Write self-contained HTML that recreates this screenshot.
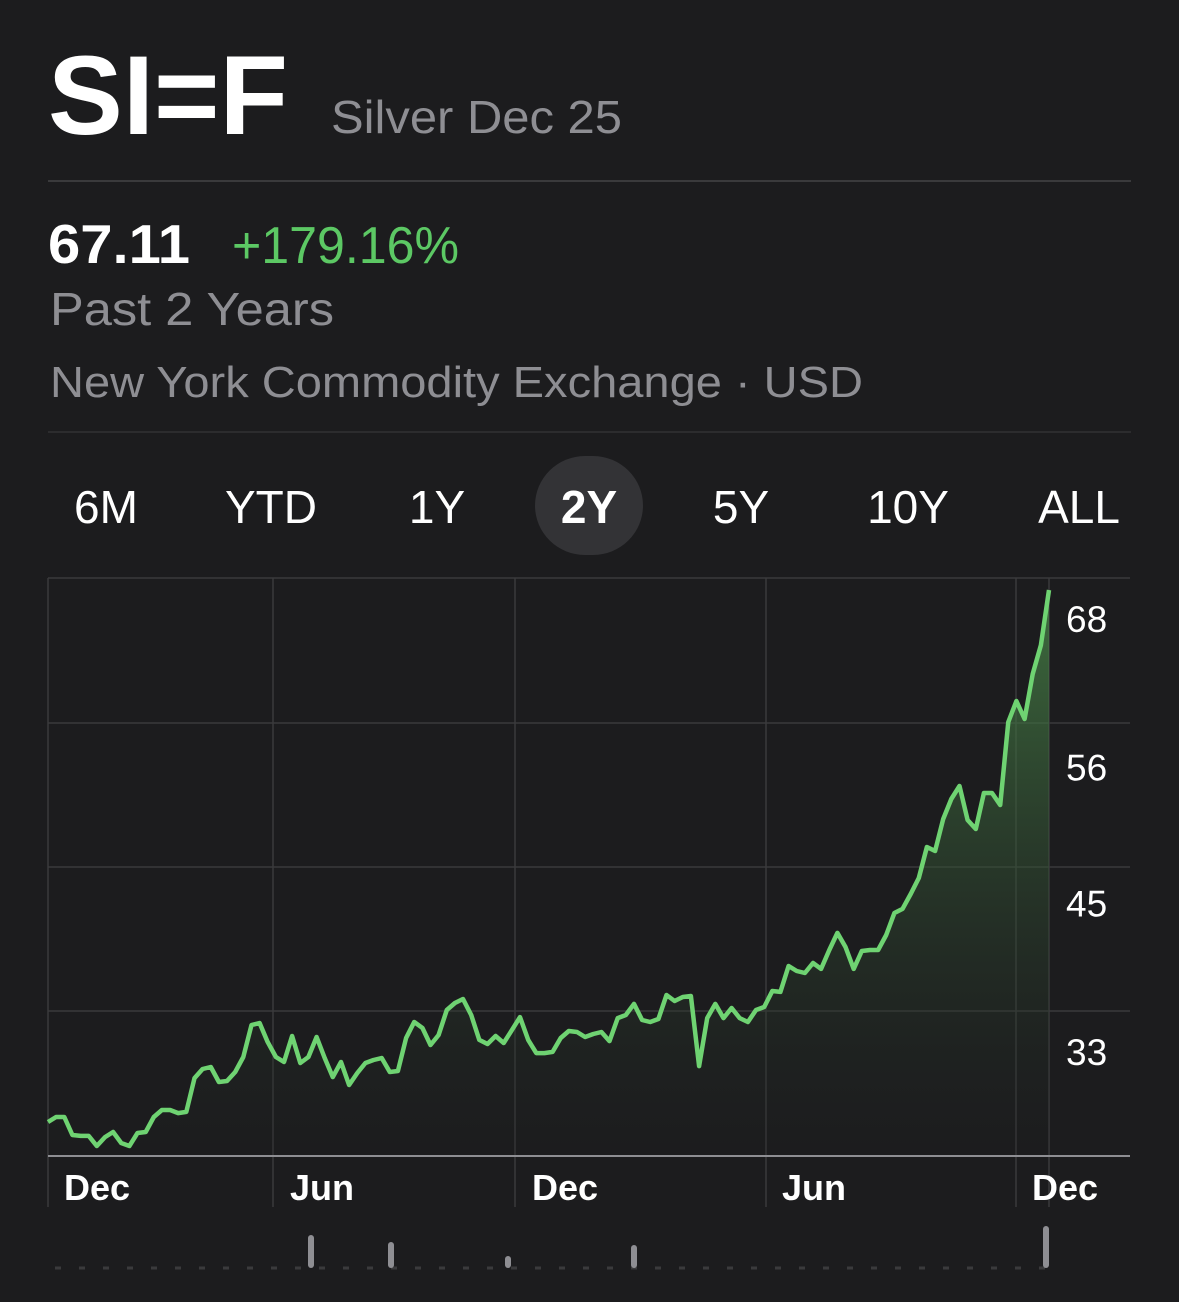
<!DOCTYPE html>
<html><head><meta charset="utf-8"><style>
html,body{margin:0;padding:0;background:#1c1c1e;}
svg{display:block;font-family:"Liberation Sans",sans-serif;}
</style></head><body>
<svg id="root" width="1179" height="1302" viewBox="0 0 1179 1302">
<rect width="1179" height="1302" fill="#1c1c1e"/>
<text x="48" y="134" font-size="112" font-weight="bold" fill="#fff" textLength="240" lengthAdjust="spacingAndGlyphs">SI=F</text>
<text x="331" y="133" font-size="46" fill="#8e8e93" textLength="291" lengthAdjust="spacingAndGlyphs">Silver Dec 25</text>
<rect x="48" y="180" width="1083" height="2" fill="#3a3a3c"/>
<text x="48" y="263" font-size="55" font-weight="bold" fill="#fff" textLength="142" lengthAdjust="spacingAndGlyphs">67.11</text>
<text x="232" y="263" font-size="52" fill="#5cc864" textLength="227" lengthAdjust="spacingAndGlyphs">+179.16%</text>
<text x="50" y="325" font-size="46" fill="#8e8e93" textLength="284" lengthAdjust="spacingAndGlyphs">Past 2 Years</text>
<text x="50" y="397" font-size="44" fill="#8e8e93" textLength="813" lengthAdjust="spacingAndGlyphs">New York Commodity Exchange · USD</text>
<rect x="48" y="431" width="1083" height="2" fill="#2c2c2e"/>
<rect x="535" y="456" width="108" height="99" rx="50" fill="#333336"/>
<g font-size="46" fill="#fff" text-anchor="middle">
<text x="106" y="523">6M</text>
<text x="271" y="523">YTD</text>
<text x="437" y="523">1Y</text>
<text x="589" y="523" font-weight="bold">2Y</text>
<text x="741" y="523">5Y</text>
<text x="908" y="523">10Y</text>
<text x="1079" y="523">ALL</text>
</g>
<defs><linearGradient id="fillg" x1="0" y1="0" x2="0" y2="1">
<stop offset="0" stop-color="#4a8a4a" stop-opacity="0.75"/>
<stop offset="1" stop-color="#1c1c1e" stop-opacity="0.2"/>
</linearGradient></defs>
<g id="chart"></g>
</svg>
<script>
const prices=[24.03,24.43,24.43,22.98,22.9,22.9,22.09,22.81,23.22,22.33,22.09,23.14,23.22,24.43,25.0,25.0,24.75,24.84,27.58,28.31,28.47,27.26,27.34,28.07,29.28,31.87,32.03,30.49,29.28,28.88,30.98,28.8,29.28,30.9,29.2,27.66,28.88,27.02,27.99,28.8,29.04,29.2,28.07,28.15,30.82,32.11,31.63,30.25,31.06,33.08,33.65,33.97,32.68,30.66,30.33,30.98,30.41,31.46,32.51,30.66,29.6,29.6,29.69,30.82,31.38,31.3,30.9,31.14,31.3,30.57,32.43,32.68,33.57,32.27,32.11,32.35,34.29,33.81,34.13,34.21,28.55,32.43,33.57,32.43,33.24,32.43,32.11,33.08,33.32,34.62,34.54,36.64,36.23,36.07,36.88,36.4,37.93,39.31,38.17,36.4,37.85,37.93,37.93,39.14,40.92,41.25,42.46,43.75,46.26,45.93,48.52,50.14,51.19,48.44,47.71,50.62,50.62,49.65,56.36,58.06,56.6,60.24,62.58,67.03];
const yTicks=[68,56,45,33];
const xLabels=["Dec","Jun","Dec","Jun","Dec"];
const xLabelIdx=[0,28,58,90,123];
const volIdx=[33,43,57,72,122];
const volValues=[33,26,12,23,42];
const NS="http://www.w3.org/2000/svg";
const g=document.getElementById('chart');
const X0=48,X1=1049,YB=1156;
const x=i=>X0+(X1-X0)*i/(prices.length-1);
const y=v=>1011-(v-33)*12.371;
function mk(t,a){const e=document.createElementNS(NS,t);for(const k in a)e.setAttribute(k,a[k]);g.appendChild(e);return e;}
const hg=[578,723,867,1011];
hg.forEach((yy,i)=>{const l=mk('line',{x1:48,x2:1130,y1:yy,y2:yy,stroke:'#3a3a3c','stroke-width':1.5});

});
[48,273,515,766,1016,1049].forEach(xx=>{const l=mk('line',{x1:xx,x2:xx,y1:578,y2:1207,stroke:'#3a3a3c','stroke-width':1.5});

});
let d='';prices.forEach((v,i)=>{d+=(i?'L':'M')+x(i).toFixed(1)+','+y(v).toFixed(1);});
const area=mk('path',{d:d+'L'+x(prices.length-1)+','+YB+'L'+X0+','+YB+'Z',fill:'url(#fillg)'});


const line=mk('path',{d:d,fill:'none',stroke:'#6fd372','stroke-width':4.5,'stroke-linejoin':'round'});


const ax=mk('line',{x1:48,x2:1130,y1:YB,y2:YB,stroke:'#8e8e93','stroke-width':2});


yTicks.forEach(v=>{const t=mk('text',{x:1066,y:y(v)+54,'font-size':37,fill:'#fff'});t.textContent=v;

});
const xlx=[64,290,532,782,1032];
xLabels.forEach((s,i)=>{const t=mk('text',{x:xlx[i],y:1200,'font-size':36,'font-weight':'bold',fill:'#fff'});t.textContent=s;

});
const bl=mk('line',{x1:55,x2:1050,y1:1268,y2:1268,stroke:'#3a3a3c','stroke-width':3,'stroke-dasharray':'6 18'});


volIdx.forEach((ix,i)=>{const h=volValues[i];const r=mk('rect',{x:[311,391,508,634,1046][i]-3,y:1268-h,width:6,height:h,rx:3,fill:'#8e8e93'});

});
</script>
</body></html>
